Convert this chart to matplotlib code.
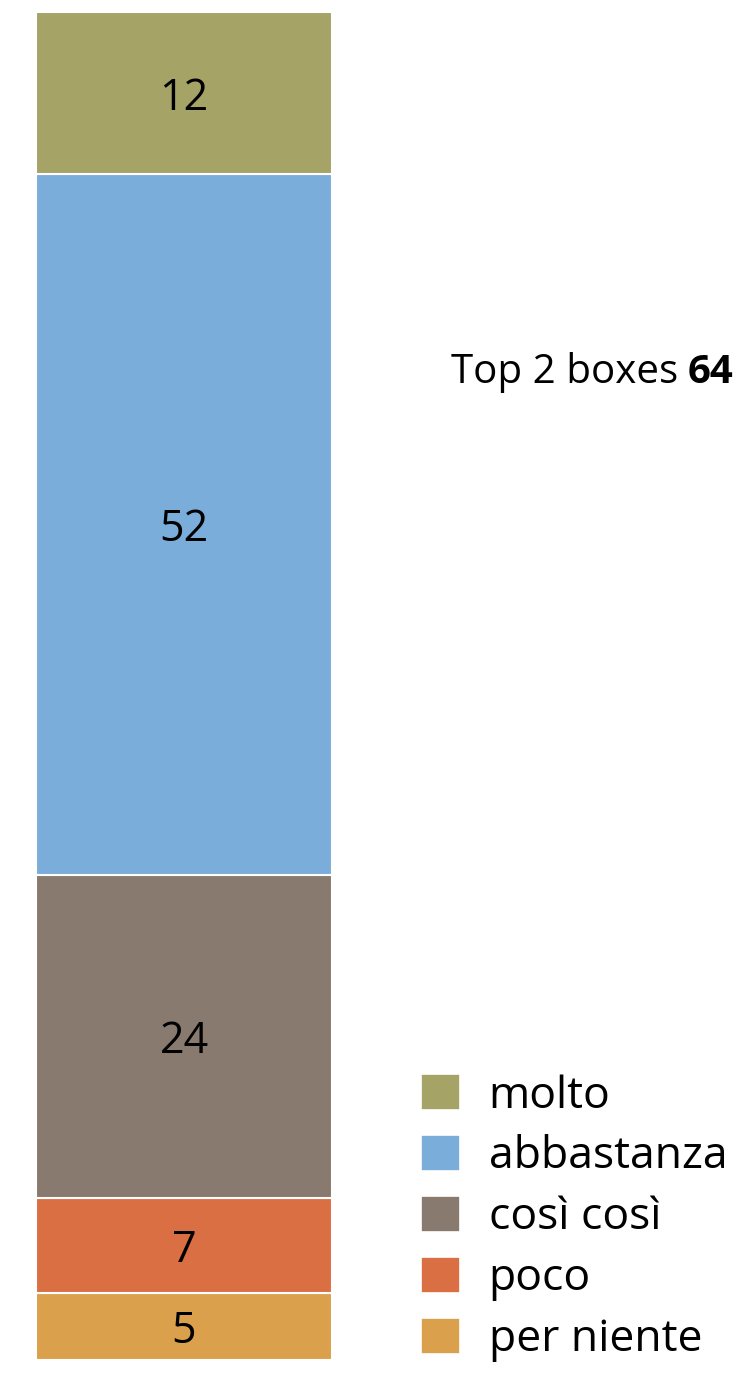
import matplotlib.pyplot as plt
from matplotlib.patches import Patch

plt.rcParams['font.family'] = ['Open Sans', 'DejaVu Sans']

# risposte, dal basso verso l'alto
categorie = ["per niente", "poco", "così così", "abbastanza", "molto"]
valori = [5, 7, 24, 52, 12]
colori = ["#DAA04C", "#DB6F44", "#887A6E", "#7BADDB", "#A5A366"]

W, H = 754, 1375
fig = plt.figure(figsize=(W / 100, H / 100), dpi=100)
ax = fig.add_axes([36 / W, 15 / H, 296 / W, 1348 / H])

base = 0
for cat, val, col in zip(categorie, valori, colori):
    ax.bar(0, val, bottom=base, width=1, color=col, edgecolor="white", linewidth=1.5)
    ax.annotate(str(val), (0, base + val / 2), xytext=(0, -12), textcoords="offset points",
                ha="center", va="baseline", fontsize=31, color="black")
    base += val

ax.set_xlim(-0.5, 0.5)
ax.set_ylim(0, sum(valori))
ax.axis("off")

# legenda: molto in alto
handles = [Patch(facecolor=c, edgecolor="white", linewidth=1.2) for c in colori[::-1]]
leg = fig.legend(handles, categorie[::-1], loc="upper left",
                 bbox_to_anchor=(421 / W, 1 - 1074 / H), frameon=False,
                 fontsize=32, handlelength=0.88, handleheight=0.88,
                 handletextpad=0.64, labelspacing=0.37, borderpad=0, borderaxespad=0)

# somma delle prime due risposte
top2 = valori[-1] + valori[-2]
fig.canvas.draw()
t_bold = fig.text(733 / W, 1 - 383 / H, str(top2), ha="right", va="baseline",
                  fontsize=29, fontweight="bold")
fig.canvas.draw()
bb = t_bold.get_window_extent()
fig.text((bb.x0 - 9) / W, 1 - 383 / H, "Top 2 boxes", ha="right", va="baseline", fontsize=29)

fig.savefig("out.png", dpi=100, facecolor="white")
plt.close(fig)
